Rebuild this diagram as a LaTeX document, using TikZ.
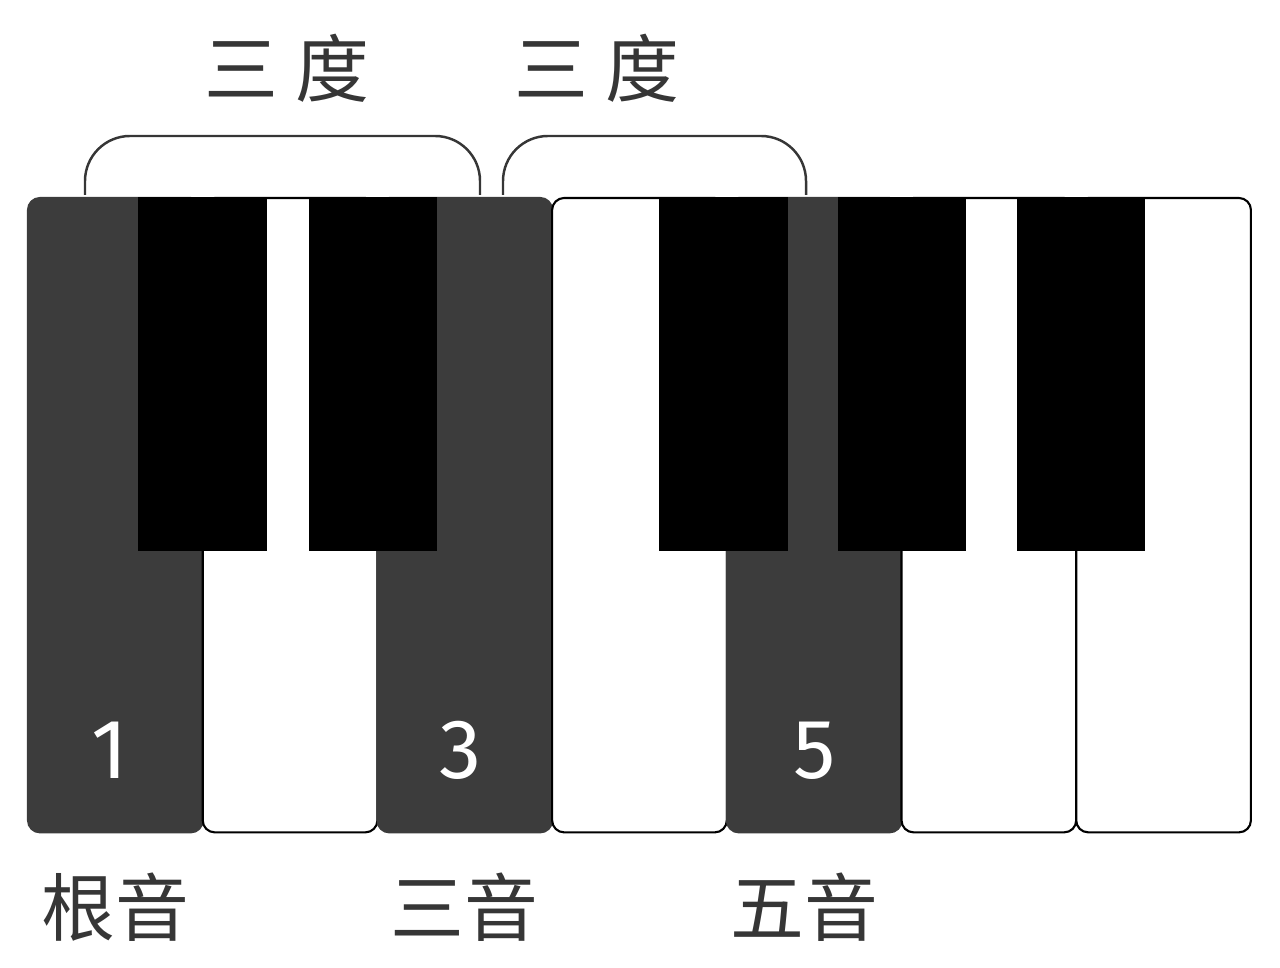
\documentclass[tikz,border=0pt]{standalone}
\usepackage{fontspec}
\setmainfont{Noto Sans CJK SC}
\newfontfamily\numfont{Fira Sans}
\usepackage{tikz}
\usetikzlibrary{chains,positioning}
\definecolor{keydark}{HTML}{3C3C3C}
\definecolor{inkgray}{HTML}{363636}
\tikzstyle{whitekey}=[draw=black,line width=0.6pt,fill=white,rounded corners=0.12cm,minimum width=1.746cm,minimum height=6.34cm,inner sep=0pt,outer sep=0pt]
\tikzstyle{chordkey}=[fill=keydark,draw=keydark]
\tikzstyle{blackkey}=[fill=black,minimum width=1.28cm,minimum height=3.54cm,anchor=north,inner sep=0pt,outer sep=0pt]
\tikzstyle{degree}=[font=\fontsize{21}{21}\selectfont,text=inkgray,inner sep=0pt]
\tikzstyle{tone}=[font=\fontsize{21}{21}\selectfont,text=inkgray,inner sep=0pt]
\tikzstyle{num}=[font=\numfont\fontsize{24}{24}\selectfont,text=white,inner sep=0pt]
\tikzstyle{brace}=[draw=inkgray,line width=0.7pt,rounded corners=0.45cm]

\begin{document}
\begin{tikzpicture}[x=0.01cm,y=-0.01cm]
\useasboundingbox (0,0) rectangle (1280,968);
\begin{scope}[start chain=keys going right, node distance=0pt]
    \node [on chain=keys,whitekey,chordkey,anchor=north west] (w1) at (28,198) {};
    \node [on chain=keys,whitekey] (w2) {};
    \node [on chain=keys,whitekey,chordkey] (w3) {};
    \node [on chain=keys,whitekey] (w4) {};
    \node [on chain=keys,whitekey,chordkey] (w5) {};
    \node [on chain=keys,whitekey] (w6) {};
    \node [on chain=keys,whitekey] (w7) {};
\end{scope}
\node [blackkey] (b1) at (202.5,197) {};
\node [blackkey] (b2) at (373,197) {};
\node [blackkey] (b3) at (723.5,197) {};
\node [blackkey] (b4) at (902,197) {};
\node [blackkey] (b5) at (1081,197) {};
% chord tones
\node [num] (n1) at ([xshift=-0.06cm,yshift=0.82cm]w1.south) {1};
\node [num] (n3) at ([xshift=-0.04cm,yshift=0.82cm]w3.south) {3};
\node [num] (n5) at ([yshift=0.82cm]w5.south) {5};
\node [tone,below=0.4cm of w1] (root) {根音};
\node [tone,below=0.4cm of w3] (third) {三音};
\node [tone,below=0.4cm of w5,xshift=-0.1cm] (fifth) {五音};
% thirds
\coordinate (t1a) at (85,195);
\coordinate (t1b) at (480,195);
\coordinate (t2a) at (503,195);
\coordinate (t2b) at (806,195);
\draw [brace] (t1a) -- (t1a |- 0,136) -- (t1b |- 0,136) -- (t1b);
\draw [brace] (t2a) -- (t2a |- 0,136) -- (t2b |- 0,136) -- (t2b);
\node [degree] (d1) at (287,68) {三 度};
\node [degree] (d2) at (597,68) {三 度};
\end{tikzpicture}
\end{document}
